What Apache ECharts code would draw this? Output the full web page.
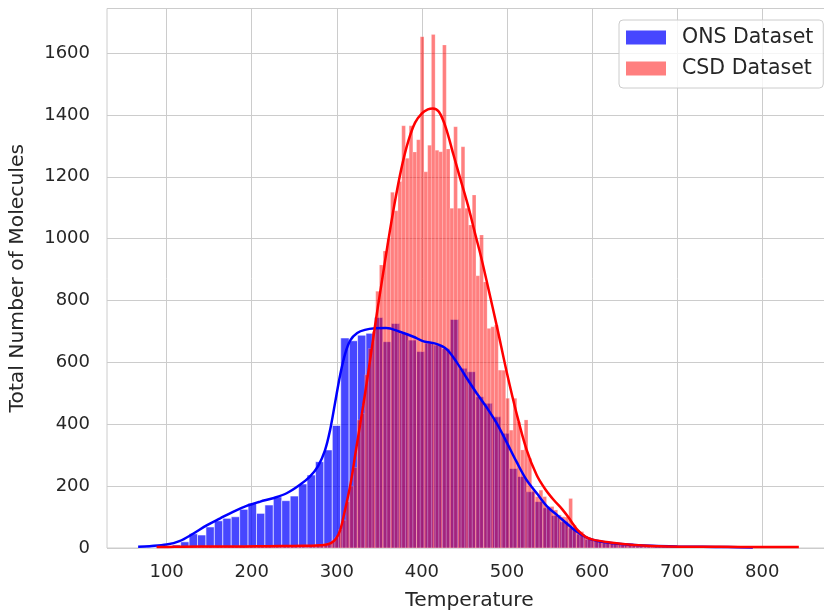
<!DOCTYPE html>
<html>
<head>
<meta charset="utf-8">
<script src="https://cdn.jsdelivr.net/npm/echarts@6/dist/echarts.min.js"></script>
<style>
html,body{margin:0;padding:0;background:#fff;}
#chart{width:824px;height:611px;}
</style>
</head>
<body>
<div id="chart"></div>
<script>
// ---------------- DATA ----------------
const xTickValues = [100, 200, 300, 400, 500, 600, 700, 800];

// ONS Dataset histogram (regular bins)
const onsBinStart = 67.0;
const onsBinWidth = 9.9;
const onsCounts = [
  1, 2, 3, 5, 10,
  20, 46, 42, 68, 88,
  96, 101, 125, 144, 112,
  139, 165, 153, 168, 207,
  236, 279, 317, 396, 679,
  670, 688, 694, 745, 667,
  726, 694, 672, 635, 662,
  656, 645, 739, 581, 570,
  489, 468, 424, 371, 257,
  231, 182, 150, 130, 105,
  85, 65, 45, 28, 23,
  17, 15, 11, 9, 7,
  6, 5, 4, 4, 3,
  3, 2, 2, 2, 1,
  1, 1, 1
];

// CSD Dataset histogram (regular bins)
const csdBinStart = 88.3;
const csdBinWidth = 4.3636;
const csdCounts = [
  1,0,1,2,1,2,2,3,2,3,
  3,4,3,4,5,4,5,5,4,5,
  5,6,5,6,5,6,7,6,5,6,
  6,7,6,7,8,7,8,7,8,9,
  9,8,10,11,12,14,16,22,35,60,
  90,150,200,260,414,435,560,645,700,830,
  915,960,1000,1150,1090,1185,1365,1260,1365,1280,
  1320,1653,1216,1302,1660,1286,1281,1626,1290,1098,
  1362,1098,1297,1098,1044,1141,880,1012,860,710,
  715,721,575,575,484,381,484,408,317,414,
  290,187,166,187,166,134,134,123,107,101,
  100,160,74,58,53,37,32,27,25,21,
  19,17,16,13,11,10,9,8,7,6,
  6,5,5,4,4,4,3,3,3,3,
  3,3,2,3,2,2,3,2,2,2,
  2,2,2,1,2,2,1,2,1,2,
  1,1,2,1,1,1,1,2,1,1,
  1,1,1
];

// KDE curves: [temperature, count]
const onsKde = [
  [66.5,4],[80,6],[100,11],[115,22],[131,46],[147,73],[163,96],[178,117],[194,136],
  [210,150],[225,161],[241,177],[257,205],[268,230],[278,265],[286,315],
  [292,380],[298,470],[304,560],[310,630],[316,672],[324,695],[333,705],
  [345,710],[358,711],[374,699],[390,683],[402,668],[417,660],[429,643],[441,600],
  [453,548],[464,502],[476,455],[488,403],[500,340],[511,280],[523,220],[535,177],
  [548,132],[560,104],[570,80],[581,55],[595,32],[610,21],[630,14],[649,10],[670,7],
  [700,5],[730,4],[760,3],[789,2]
];
const csdKde = [
  [88.3,3],[110,4],[140,5],[180,5],[220,6],[260,7],[285,10],[293,16],[299,30],
  [304,58],[309,115],[316,205],[323,325],[331,460],[339,605],[345,720],[352,845],
  [360,985],[368,1115],[376,1228],[384,1315],[392,1375],[400,1405],[407,1418],
  [413,1421],[420,1410],[428,1360],[437,1272],[445,1195],[454,1109],[462,1022],
  [470,936],[478,840],[488,718],[500,565],[511,438],[523,318],[535,235],
  [545,190],[555,155],[565,125],[572,100],[578,76],[584,55],[592,37],
  [601,27],[621,18],[649,10],[688,5],[750,4],[800,3],[843,3]
];

// ---------------- CHART ----------------
const FONT = 'DejaVu Sans';
const TXT = '#262626';
const GRIDC = '#cccccc';

function histSeries(name, start, width, counts, fill, stroke, lw) {
  const data = counts.map((c, i) => [start + i * width, start + (i + 1) * width, c]);
  return {
    type: 'custom',
    name: name,
    data: data,
    encode: { x: [0, 1], y: 2 },
    itemStyle: { color: fill },
    z: 2,
    silent: true,
    renderItem: function (params, api) {
      const p0 = api.coord([api.value(0), api.value(2)]);
      const p1 = api.coord([api.value(1), 0]);
      return {
        type: 'rect',
        shape: { x: p0[0], y: p0[1], width: p1[0] - p0[0], height: p1[1] - p0[1] },
        style: { fill: fill, stroke: stroke, lineWidth: lw }
      };
    }
  };
}

const chart = echarts.init(document.getElementById('chart'), null, { renderer: 'canvas' });
chart.setOption({
  animation: false,
  backgroundColor: '#ffffff',
  textStyle: { fontFamily: FONT },
  grid: {
    left: 107, right: -8, top: 8.5, bottom: 63,
    containLabel: false,
    outerBoundsMode: 'none',
    show: true, borderColor: GRIDC, borderWidth: 1, backgroundColor: 'transparent'
  },
  legend: {
    orient: 'vertical',
    left: 619, top: 20,
    padding: [7, 10, 9, 7],
    itemGap: 10,
    itemWidth: 40, itemHeight: 14,
    icon: 'rect',
    backgroundColor: 'rgba(255,255,255,0.8)',
    borderColor: GRIDC, borderWidth: 1, borderRadius: 4,
    textStyle: { fontFamily: FONT, fontSize: 20.5, color: TXT, padding: [0, 0, 0, 11] },
    data: [
      { name: 'ONS Dataset', itemStyle: { color: 'rgba(0,0,255,0.72)' } },
      { name: 'CSD Dataset', itemStyle: { color: 'rgba(255,0,0,0.5)' } }
    ]
  },
  xAxis: {
    type: 'value',
    min: 29.9, max: 882,
    name: 'Temperature',
    nameLocation: 'middle',
    nameGap: 43,
    nameTextStyle: { fontFamily: FONT, fontSize: 20.3, color: TXT },
    axisLine: { show: false },
    axisTick: { show: false, customValues: xTickValues },
    axisLabel: { customValues: xTickValues, fontFamily: FONT, fontSize: 18, color: TXT, margin: 15 },
    splitLine: { show: true, lineStyle: { color: GRIDC, width: 1 } }
  },
  yAxis: {
    type: 'value',
    min: 0, max: 1744, interval: 200,
    name: 'Total Number of Molecules',
    nameLocation: 'middle',
    nameGap: 79,
    nameTextStyle: { fontFamily: FONT, fontSize: 20.3, color: TXT },
    axisLine: { show: false },
    axisTick: { show: false },
    axisLabel: {
      showMaxLabel: false, fontFamily: FONT, fontSize: 18, color: TXT, margin: 17,
      formatter: function (v) { return String(v); }
    },
    splitLine: { show: true, lineStyle: { color: GRIDC, width: 1 } }
  },
  series: [
    histSeries('ONS Dataset', onsBinStart, onsBinWidth, onsCounts, 'rgba(0,0,255,0.72)', 'rgba(255,255,255,0.72)', 0.8),
    histSeries('CSD Dataset', csdBinStart, csdBinWidth, csdCounts, 'rgba(255,0,0,0.5)', 'rgba(255,255,255,0.5)', 0.4),
    {
      type: 'line', name: 'ONS KDE', data: onsKde, showSymbol: false, silent: true,
      smooth: 0.35, z: 5,
      lineStyle: { color: '#0000ff', width: 2.5 }, itemStyle: { color: '#0000ff' }
    },
    {
      type: 'line', name: 'CSD KDE', data: csdKde, showSymbol: false, silent: true,
      smooth: 0.35, z: 5,
      lineStyle: { color: '#ff0000', width: 2.5 }, itemStyle: { color: '#ff0000' }
    }
  ]
});
</script>
</body>
</html>
